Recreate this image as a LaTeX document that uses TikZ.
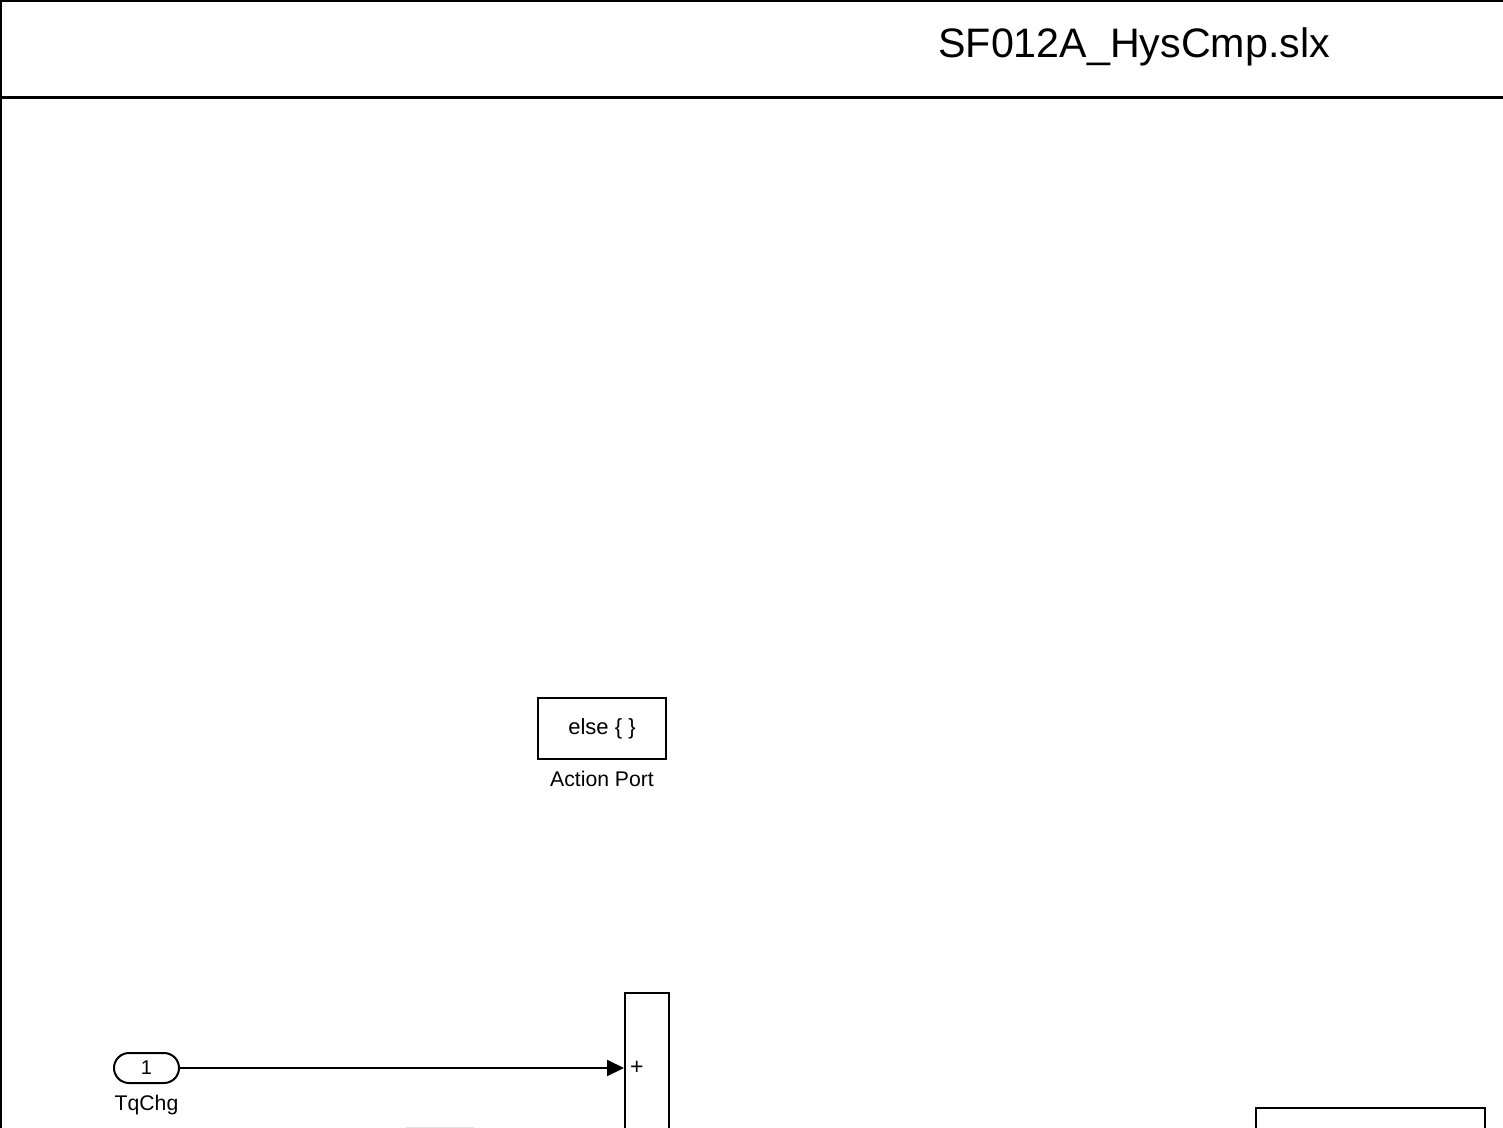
\documentclass[tikz,border=0pt]{standalone}
\usepackage{fontspec}
\setmainfont{Liberation Sans}
\usetikzlibrary{positioning}
\usetikzlibrary{arrows.meta}
\tikzset{
        block/.style={draw, line width=1pt, inner sep=0pt, fill=white},
        inport/.style={draw, line width=1pt, rounded corners=7.5pt,
          minimum width=32.5pt, minimum height=15pt, inner sep=0pt,
          font=\fontsize{10}{12}\selectfont},
        blocklabel/.style={inner sep=0pt, font=\fontsize{10.6}{12}\selectfont},
        signal/.style={line width=1pt, -{Triangle[length=8.5pt, width=8pt]}},
        frameline/.style={line width=1.2pt},
}
\begin{document}
\begin{tikzpicture}[x=0.5pt, y=-0.5pt, node distance=6pt]
      \useasboundingbox (0,0) rectangle (1503,1128);
      \clip (0,0) rectangle (1503,1128);
      % FRAME
      \draw[frameline] (1,1200) -- (1,1) -- (1520,1);
      \draw[frameline, line width=1.5pt] (1,97.5) -- (1520,97.5);
      \node[anchor=base west, inner sep=0pt, font=\fontsize{20.6}{24}\selectfont] (title) at (938,58) {SF012A\_HysCmp.slx};

      % ACTION PORT
      \node[block, minimum width=64pt, minimum height=30.5pt, font=\fontsize{11}{13}\selectfont] (else) at (602,728.5) {else \{ \}};
      \node[blocklabel, below=5.5pt of else] (elselabel) {Action Port};

      % INPORT
      \node[inport] (tqchg) at (146.5,1068) {1};
      \node[blocklabel, below=5.5pt of tqchg] (tqchglabel) {TqChg};

      % SUM
      \node[block, anchor=north, minimum width=22pt, minimum height=120pt] (sum) at (647,992) {};
      \node[inner sep=0pt, anchor=west, font=\fontsize{11.5}{13}\selectfont] (sumplus) at ([xshift=2.8pt]sum.west |- tqchg) {+};

      % OUTPUT BLOCK (cut off)
      \node[block, anchor=north west, minimum width=114.5pt, minimum height=60pt] (outblock) at (1255,1107) {};

      % faint block below
      \node[draw=black!12, line width=0.6pt, anchor=north, minimum width=33pt, minimum height=30pt, inner sep=0pt] (ghost) at (440,1127) {};

      % WIRING
      \draw[signal] (tqchg.east) -- (tqchg.east -| sum.west);
\end{tikzpicture}
\end{document}
